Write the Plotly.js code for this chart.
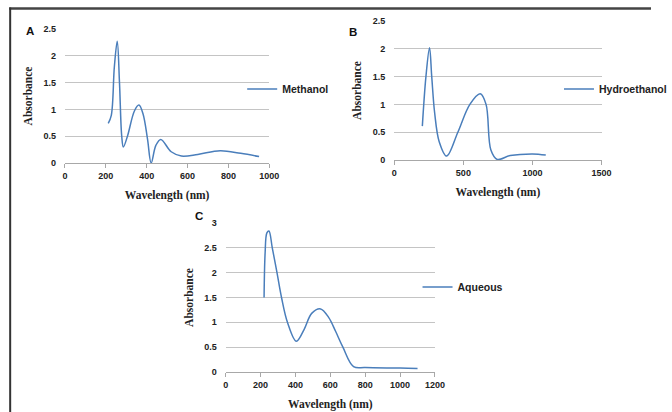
<!DOCTYPE html>
<html>
<head>
<meta charset="utf-8">
<script src="https://cdn.plot.ly/plotly-3.0.1.min.js"></script>
<style>html,body{margin:0;padding:0;background:#fff;}#chart{width:672px;height:412px;}</style>
</head>
<body>
<div id="chart"></div>
<script>
// Panel A: Methanol
const methanolWavelength = [212, 227, 242, 256, 267, 278, 286, 306, 340, 362, 382, 404, 422, 445, 469, 520, 570, 650, 760, 860, 950];
const methanolAbsorbance = [0.74, 0.89, 1.8, 2.27, 1.5, 0.5, 0.30, 0.5, 0.97, 1.08, 0.92, 0.45, 0.0, 0.33, 0.44, 0.21, 0.13, 0.16, 0.23, 0.18, 0.12];
// Panel B: Hydroethanol
const hydroWavelength = [203, 229, 255, 271, 292, 325, 379, 460, 547, 622, 664, 699, 745, 839, 1000, 1096];
const hydroAbsorbance = [0.61, 1.5, 2.02, 1.5, 0.85, 0.33, 0.07, 0.5, 1.0, 1.19, 1.0, 0.18, 0.01, 0.08, 0.11, 0.09];
// Panel C: Aqueous
const aqueousWavelength = [220, 226, 236, 248, 267, 294, 320, 354, 405, 450, 493, 544, 590, 630, 672, 733, 800, 1000, 1100];
const aqueousAbsorbance = [1.5, 2.4, 2.8, 2.84, 2.5, 2.0, 1.5, 1.0, 0.62, 0.86, 1.18, 1.27, 1.1, 0.82, 0.5, 0.11, 0.09, 0.08, 0.07];

const seriesNames = ["Methanol", "Hydroethanol", "Aqueous"];
const panelLetters = ["A", "B", "C"];
const xTitle = "Wavelength (nm)";
const yTitle = "Absorbance";

const W = 672, H = 412;
const lineColor = "#4a7ebb";
const gridColor = "#c4c4c4";
const tickFont = {family: "Liberation Sans, Arial, sans-serif", size: 9, color: "#222", weight: "bold"};
const titleFont = {family: "Liberation Serif, Times New Roman, serif", size: 11.5, color: "#222", weight: "bold"};
const legendFont = {family: "Liberation Sans, Arial, sans-serif", size: 10.5, color: "#222", weight: "bold"};

function px(x) { return x / W; }
function py(y) { return 1 - y / H; }

function xAxis(l, r, range, dtick, anchor) {
  return {
    domain: [px(l), px(r)], range: range, dtick: dtick, anchor: anchor,
    showgrid: false, zeroline: false, showline: true, linecolor: "#a8a8a8", linewidth: 1,
    ticks: "outside", ticklen: 4, tickcolor: "#a8a8a8", tickfont: tickFont,
    title: {text: xTitle, font: titleFont, standoff: 11}, automargin: false, fixedrange: true
  };
}
function yAxis(top, bottom, range, dtick, anchor) {
  return {
    domain: [py(bottom), py(top)], range: range, dtick: dtick, anchor: anchor,
    showgrid: true, gridcolor: gridColor, gridwidth: 1, zeroline: false, showline: false,
    ticks: "", tickfont: tickFont, ticklabelstandoff: 8,
    title: {text: yTitle, font: titleFont, standoff: 8}, automargin: false, fixedrange: true
  };
}

const lineStyle = {color: lineColor, width: 1.5, shape: "spline", smoothing: 1};
const traces = [
  {x: methanolWavelength, y: methanolAbsorbance, name: seriesNames[0], xaxis: "x", yaxis: "y", legend: "legend",
   type: "scatter", mode: "lines", line: lineStyle},
  {x: hydroWavelength, y: hydroAbsorbance, name: seriesNames[1], xaxis: "x2", yaxis: "y2", legend: "legend2",
   type: "scatter", mode: "lines", line: lineStyle},
  {x: aqueousWavelength, y: aqueousAbsorbance, name: seriesNames[2], xaxis: "x3", yaxis: "y3", legend: "legend3",
   type: "scatter", mode: "lines", line: lineStyle}
];

function legendAt(x, y) {
  return {x: px(x), y: py(y), xanchor: "left", yanchor: "middle", xref: "paper", yref: "paper",
          bgcolor: "rgba(0,0,0,0)", borderwidth: 0, font: legendFont, itemwidth: 30};
}

const letterFont = {family: "Liberation Sans, Arial, sans-serif", size: 11.5, color: "#111", weight: "bold"};

const layout = {
  width: W, height: H, margin: {l: 0, r: 0, t: 0, b: 0},
  paper_bgcolor: "#fff", plot_bgcolor: "#fff", showlegend: true,
  xaxis: xAxis(67, 278, [0, 1000], 200, "y"),
  yaxis: yAxis(29, 163, [0, 2.5], 0.5, "x"),
  xaxis2: xAxis(407, 621, [0, 1500], 500, "y2"),
  yaxis2: yAxis(21, 160, [0, 2.5], 0.5, "x2"),
  xaxis3: xAxis(233, 449, [0, 1200], 200, "y3"),
  yaxis3: yAxis(223, 372, [0, 3], 0.5, "x3"),
  legend: legendAt(250, 89),
  legend2: legendAt(577, 89),
  legend3: legendAt(431, 287),
  annotations: [
    {text: panelLetters[0], x: px(25), y: py(23), xref: "paper", yref: "paper", showarrow: false, font: letterFont},
    {text: panelLetters[1], x: px(364), y: py(23.5), xref: "paper", yref: "paper", showarrow: false, font: letterFont},
    {text: panelLetters[2], x: px(199), y: py(215.5), xref: "paper", yref: "paper", showarrow: false, font: letterFont}
  ],
  shapes: [
    {type: "line", xref: "paper", yref: "paper", x0: px(9.5), x1: 1, y0: py(8.5), y1: py(8.5), line: {color: "#444", width: 2.5}},
    {type: "line", xref: "paper", yref: "paper", x0: px(10.5), x1: px(10.5), y0: py(7.5), y1: 0, line: {color: "#333", width: 2}}
  ]
};

Plotly.newPlot("chart", traces, layout, {staticPlot: true, displayModeBar: false});
</script>
</body>
</html>
